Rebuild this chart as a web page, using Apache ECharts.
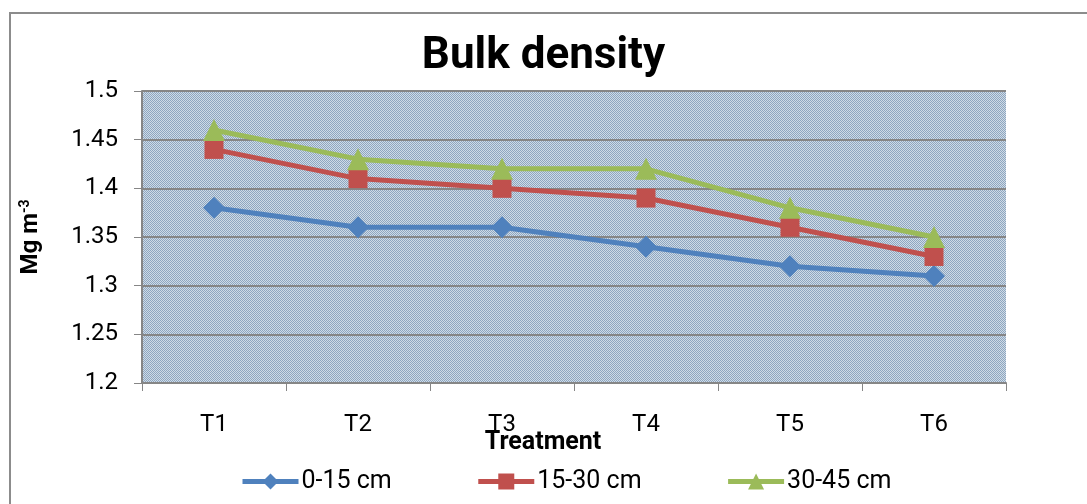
<!DOCTYPE html>
<html lang="en">
<head>
  <meta charset="UTF-8">
  <title>Bulk density</title>
  <style>
    html, body { margin: 0; padding: 0; background: #fff; }
    #chart { width: 1087px; height: 504px; }
  </style>
</head>
<body>
<div id="chart"></div>
<script src="https://cdn.jsdelivr.net/npm/echarts@6/dist/echarts.min.js"></script>
<script>
  // data
  const treatments = ['T1', 'T2', 'T3', 'T4', 'T5', 'T6'];
  const depth0_15 = [1.38, 1.36, 1.36, 1.34, 1.32, 1.31];
  const depth15_30 = [1.44, 1.41, 1.40, 1.39, 1.36, 1.33];
  const depth30_45 = [1.46, 1.43, 1.42, 1.42, 1.38, 1.35];

  // dotted plot background like the original
  function makePattern() {
    const c = document.createElement('canvas');
    c.width = 4; c.height = 4;
    const ctx = c.getContext('2d');
    ctx.fillStyle = '#cfdbe6';
    ctx.fillRect(0, 0, 4, 4);
    ctx.fillStyle = '#8ea6c0';
    for (let y = 0; y < 4; y++) {
      for (let x = 0; x < 4; x++) {
        if ((x + y) % 2 === 0) ctx.fillRect(x, y, 1, 1);
      }
    }
    return c;
  }

  const font = 'Roboto, "Liberation Sans", sans-serif';
  const chart = echarts.init(document.getElementById('chart'));

  function lineSeries(name, data, color, symbol, size) {
    return {
      name: name,
      type: 'line',
      data: data,
      symbol: symbol,
      symbolSize: size,
      lineStyle: { color: color, width: 5 },
      itemStyle: { color: color },
      animation: false
    };
  }

  chart.setOption({
    animation: false,
    title: {
      text: 'Bulk density',
      left: 'center',
      top: 30,
      textStyle: { fontFamily: font, fontWeight: 'bold', fontSize: 44, color: '#000' }
    },
    graphic: [{
      type: 'rect',
      shape: { x: 10, y: 13, width: 1200, height: 600 },
      style: { fill: 'none', stroke: '#8c8c8c', lineWidth: 2 },
      silent: true
    }],
    grid: {
      left: 142, right: 81, top: 91, bottom: 121,
      show: true,
      borderWidth: 0,
      backgroundColor: { image: makePattern(), repeat: 'repeat' }
    },
    legend: {
      top: 464,
      left: 235,
      itemWidth: 56,
      itemHeight: 20,
      itemGap: 84,
      lineStyle: { width: 5 },
      textStyle: { fontFamily: font, fontSize: 25, color: '#000', padding: [0, 0, 0, -2] },
      data: ['0-15 cm', '15-30 cm', '30-45 cm']
    },
    xAxis: {
      type: 'category',
      data: treatments,
      boundaryGap: true,
      name: 'Treatment',
      nameLocation: 'middle',
      nameGap: 47,
      nameMoveOverlap: false,
      nameTextStyle: { fontFamily: font, fontWeight: 'bold', fontSize: 25, color: '#000', padding: [0, 62, 0, 0] },
      axisLine: { lineStyle: { color: '#868686', width: 2 } },
      axisTick: { show: true, length: 8, lineStyle: { color: '#868686' } },
      axisLabel: { margin: 30, fontFamily: font, fontSize: 24, color: '#000' }
    },
    yAxis: {
      type: 'value',
      min: 1.2,
      max: 1.5,
      interval: 0.05,
      name: '{a|Mg m}{s|-3}',
      nameLocation: 'middle',
      nameGap: 98,
      nameMoveOverlap: false,
      nameRotate: 90,
      nameTextStyle: {
        rich: {
          a: { fontFamily: font, fontWeight: 'bold', fontSize: 24, color: '#000' },
          s: { fontFamily: font, fontWeight: 'bold', fontSize: 14, color: '#000', verticalAlign: 'top', padding: [0, 0, 12, 0] }
        }
      },
      axisLine: { show: true, lineStyle: { color: '#868686', width: 2 } },
      axisTick: { show: true, length: 8, lineStyle: { color: '#868686' } },
      axisLabel: {
        margin: 24,
        fontFamily: font,
        fontSize: 24,
        color: '#000',
        formatter: v => String(parseFloat(v.toFixed(2)))
      },
      splitLine: { show: true, lineStyle: { color: '#868686', width: 2 } }
    },
    series: [
      lineSeries('0-15 cm', depth0_15, '#4f81bd', 'diamond', 22),
      lineSeries('15-30 cm', depth15_30, '#c0504d', 'rect', 19),
      lineSeries('30-45 cm', depth30_45, '#9bbb59', 'triangle', 22)
    ]
  });
</script>
</body>
</html>
